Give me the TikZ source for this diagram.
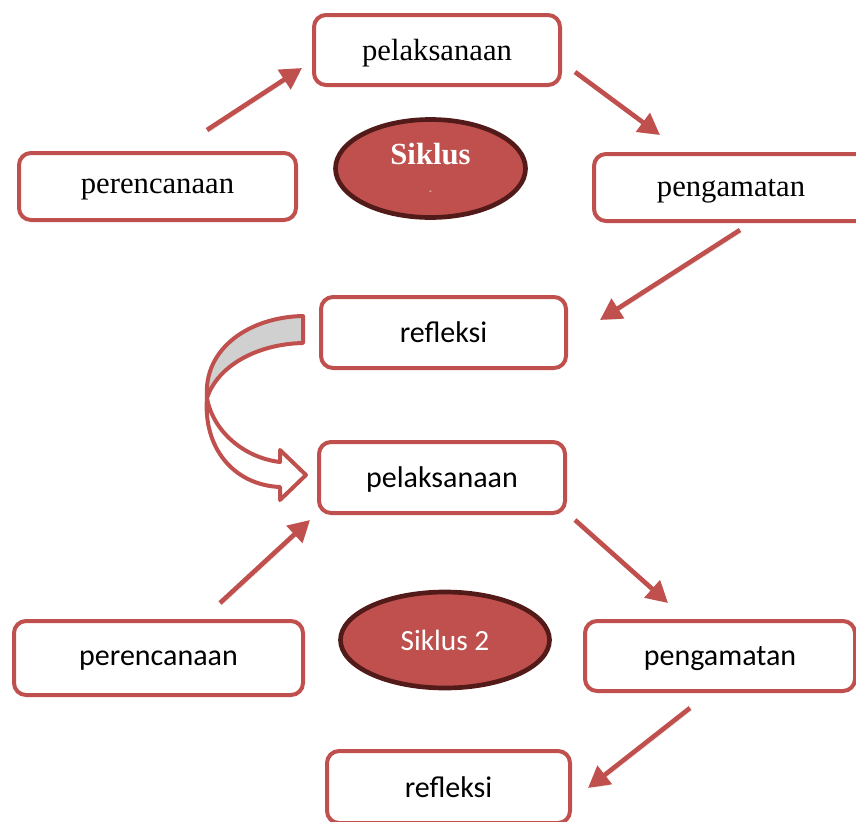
\documentclass[tikz,border=0pt]{standalone}
\usepackage{fontspec}
\setmainfont{Liberation Serif}
\setsansfont{Carlito}
\usetikzlibrary{arrows.meta,shapes.geometric}
\definecolor{ofRed}{HTML}{C0504D}
\definecolor{ofDark}{HTML}{521B19}
\definecolor{ofGrey}{HTML}{D0D0D0}

\begin{document}
\begin{tikzpicture}[x=0.75pt,y=-0.75pt,
  box/.style={draw=ofRed,line width=3pt,rounded corners=9pt,fill=white,inner sep=0pt,text depth=0pt},
  serifbox/.style={box,font=\fontsize{23}{27}\selectfont},
  sansbox/.style={box,font=\sffamily\fontsize{22.5}{27}\selectfont},
  siklus/.style={ellipse,draw=ofDark,fill=ofRed,line width=3.5pt,text=white,inner sep=0pt},
  flow/.style={draw=ofRed,line width=3.5pt,-{Triangle[length=16pt,width=17pt]},
    preaction={draw=black!10,transform canvas={shift={(1.2pt,-1.8pt)}}}}]
\useasboundingbox (0,0) rectangle (856,821);
% cycle 1
\node[serifbox,minimum width=184.5pt,minimum height=52.5pt] (pel1) at (437,50) {pelaksanaan};
\node[serifbox,minimum width=207.75pt,minimum height=50.25pt] (per1) at (157.5,186.5) {perencanaan};
\node[serifbox,minimum width=205.5pt,minimum height=50.25pt] (pen1) at (731,187.5) {pengamatan};
\node[siklus,minimum width=142.5pt,minimum height=73.5pt,align=center,
  font=\bfseries\fontsize{23}{25}\selectfont] (sik1) at (430.5,168.5)
  {Siklus\\[-3pt]{\fontsize{6}{6}\selectfont -}};
\node[sansbox,minimum width=183.75pt,minimum height=53.25pt] (ref1) at (443.5,332.5) {refleksi};
% cycle 2
\node[sansbox,minimum width=184.5pt,minimum height=53.25pt] (pel2) at (442,477.5) {pelaksanaan};
\node[sansbox,minimum width=216.75pt,minimum height=55.5pt] (per2) at (158.5,658) {perencanaan};
\node[sansbox,minimum width=202.5pt,minimum height=52.5pt] (pen2) at (720,656) {pengamatan};
\node[siklus,minimum width=156.75pt,minimum height=72pt,
  font=\sffamily\fontsize{22}{24}\selectfont] (sik2) at (445,640) {Siklus 2};
\node[sansbox,minimum width=182.25pt,minimum height=54pt] (ref2) at (448.5,787) {refleksi};
% arrow ends
\coordinate (a1s) at (207,130); \coordinate (a1e) at (302,68);
\coordinate (a2s) at (575,72);  \coordinate (a2e) at (660,135);
\coordinate (a3s) at (740,230); \coordinate (a3e) at (600,320);
\coordinate (a4s) at (220,603); \coordinate (a4e) at (310,520);
\coordinate (a5s) at (575,520); \coordinate (a5e) at (668,603);
\coordinate (a6s) at (690,708); \coordinate (a6e) at (588,788);
\draw[flow] (a1s) -- (a1e);
\draw[flow] (a2s) -- (a2e);
\draw[flow] (a3s) -- (a3e);
\draw[flow] (a4s) -- (a4e);
\draw[flow] (a5s) -- (a5e);
\draw[flow] (a6s) -- (a6e);
% curved block arrow
\filldraw[fill=ofGrey,draw=ofRed,line width=3pt,line join=round]
  (303,316) -- (303,343) .. controls (258,344) and (218,365) .. (207,398)
  .. controls (203,348) and (250,317) .. (303,316) -- cycle;
\filldraw[fill=white,draw=ofRed,line width=3pt,line join=round]
  (207,398) .. controls (213,432) and (245,458) .. (280,462) -- (280,450)
  -- (306,475) -- (280,500) -- (280,487)
  .. controls (233,485) and (203,447) .. (207,398) -- cycle;
\end{tikzpicture}
\end{document}
